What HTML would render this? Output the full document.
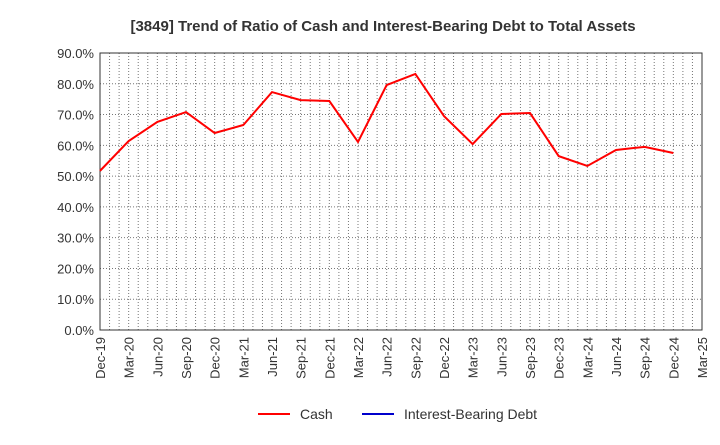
<!DOCTYPE html>
<html><head><meta charset="utf-8"><style>
body{margin:0;background:#fff;font-family:"Liberation Sans",sans-serif;}
</style></head><body>
<svg id="chart" width="720" height="440" xmlns="http://www.w3.org/2000/svg">
<text x="383" y="31" text-anchor="middle" font-size="15" font-weight="bold" fill="#333">[3849]  Trend of Ratio of Cash and Interest-Bearing Debt to Total Assets</text>
<g id="grid"></g><g id="axes"></g><g id="series"></g>
<g>
<line x1="258" y1="414" x2="290" y2="414" stroke="#f00" stroke-width="2"/>
<text x="300" y="419" font-size="14" fill="#333">Cash</text>
<line x1="362" y1="414" x2="394" y2="414" stroke="#00c" stroke-width="2"/>
<text x="404" y="419" font-size="14" fill="#333">Interest-Bearing Debt</text>
</g>
</svg>
<script>
const categories=["Dec-19","Mar-20","Jun-20","Sep-20","Dec-20","Mar-21","Jun-21","Sep-21","Dec-21","Mar-22","Jun-22","Sep-22","Dec-22","Mar-23","Jun-23","Sep-23","Dec-23","Mar-24","Jun-24","Sep-24","Dec-24","Mar-25"];
const cashValues=[51.7,61.4,67.6,70.8,64.0,66.6,77.3,74.7,74.4,61.1,79.6,83.2,69.5,60.4,70.2,70.5,56.5,53.3,58.5,59.5,57.5];
const debtValues=[];
const yTicks=[0,10,20,30,40,50,60,70,80,90];
const NS="http://www.w3.org/2000/svg";
const L=100,R=702,T=53,B=330;
const x=i=>L+i*(R-L)/(categories.length-1);
const y=v=>B-v/90*(B-T);
function mk(p,tag,a){const e=document.createElementNS(NS,tag);for(const k in a)e.setAttribute(k,a[k]);p.appendChild(e);return e;}
const grid=document.getElementById('grid'),axes=document.getElementById('axes'),series=document.getElementById('series');
yTicks.forEach(v=>{
 const l=mk(grid,'line',{x1:L,x2:R,y1:y(v),y2:y(v),stroke:'#777','stroke-dasharray':'1,2','stroke-width':1});
 
 
 const t=mk(axes,'text',{x:L-6,y:y(v)+5,'text-anchor':'end','font-size':13,fill:'#333'});
 t.textContent=v.toFixed(1)+'%';
 
 
});
for(let m=1;m<(categories.length-1)*3;m++){
 const gx=x(m/3);
 const l=mk(grid,'line',{x1:gx,x2:gx,y1:T,y2:B,stroke:'#777','stroke-dasharray':'1,2','stroke-width':1});
 
 
}
categories.forEach((c,i)=>{
 const t=mk(axes,'text',{x:0,y:0,'text-anchor':'end','font-size':13,fill:'#333',transform:`translate(${x(i)+5},${B+7}) rotate(-90)`});
 t.textContent=c;
 
 
});
const frame=mk(axes,'rect',{x:L,y:T,width:R-L,height:B-T,fill:'none',stroke:'#333'});


const cl=mk(series,'polyline',{points:cashValues.map((v,i)=>x(i)+','+y(v)).join(' '),fill:'none',stroke:'#f00','stroke-width':2});


if(debtValues.length){const dl=mk(series,'polyline',{points:debtValues.map((v,i)=>x(i)+','+y(v)).join(' '),fill:'none',stroke:'#00c','stroke-width':2});

}
</script>
</body></html>
